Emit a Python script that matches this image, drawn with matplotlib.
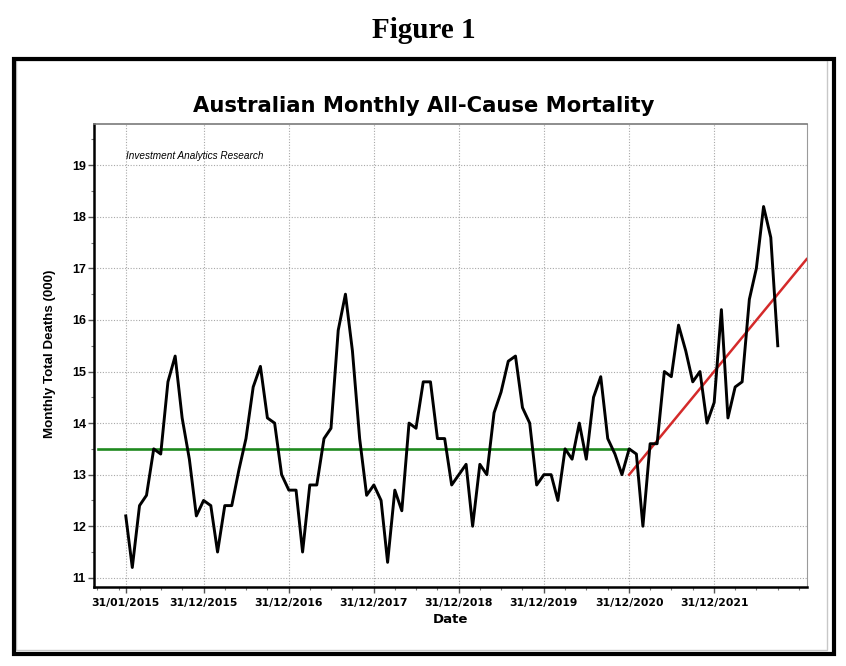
import numpy as np
import pandas as pd
import matplotlib
matplotlib.use('Agg')
import matplotlib.pyplot as plt
from matplotlib.patches import Rectangle

# monthly all-cause deaths (000), Jan 2015 .. Sep 2022
deaths_2015 = [12.2, 11.2, 12.4, 12.6, 13.5, 13.4, 14.8, 15.3, 14.1, 13.3, 12.2, 12.5]
deaths_2016 = [12.4, 11.5, 12.4, 12.4, 13.1, 13.7, 14.7, 15.1, 14.1, 14.0, 13.0, 12.7]
deaths_2017 = [12.7, 11.5, 12.8, 12.8, 13.7, 13.9, 15.8, 16.5, 15.4, 13.7, 12.6, 12.8]
deaths_2018 = [12.5, 11.3, 12.7, 12.3, 14.0, 13.9, 14.8, 14.8, 13.7, 13.7, 12.8, 13.0]
deaths_2019 = [13.2, 12.0, 13.2, 13.0, 14.2, 14.6, 15.2, 15.3, 14.3, 14.0, 12.8, 13.0]
deaths_2020 = [13.0, 12.5, 13.5, 13.3, 14.0, 13.3, 14.5, 14.9, 13.7, 13.4, 13.0, 13.5]
deaths_2021 = [13.4, 12.0, 13.6, 13.6, 15.0, 14.9, 15.9, 15.4, 14.8, 15.0, 14.0, 14.4]
deaths_2022 = [16.2, 14.1, 14.7, 14.8, 16.4, 17.0, 18.2, 17.6, 15.5]

deaths = (deaths_2015 + deaths_2016 + deaths_2017 + deaths_2018 +
          deaths_2019 + deaths_2020 + deaths_2021 + deaths_2022)
months = pd.date_range('2015-01-31', periods=len(deaths), freq='ME')

# pre-covid average level and post-2020 trend
avg_dates = ['2014-10-05', '2020-12-31']
avg_vals = [13.5, 13.5]
trend_dates = ['2020-12-31', '2023-02-01']
trend_vals = [13.0, 17.18]

tick_dates = ['2015-01-31', '2015-12-31', '2016-12-31', '2017-12-31',
              '2018-12-31', '2019-12-31', '2020-12-31', '2021-12-31']
tick_labels = ['31/01/2015', '31/12/2015', '31/12/2016', '31/12/2017',
               '31/12/2018', '31/12/2019', '31/12/2020', '31/12/2021']
y_ticks = [11, 12, 13, 14, 15, 16, 17, 18, 19]

fig = plt.figure(figsize=(8.46, 6.66), dpi=100, facecolor='white')
ax = fig.add_axes([0.1115, 0.1185, 0.842, 0.6953])

ax.plot(pd.to_datetime(avg_dates), avg_vals, color='#1f8a1f', lw=1.9, zorder=3)
ax.plot(pd.to_datetime(trend_dates), trend_vals, color='#d42a2a', lw=1.8, zorder=4)
ax.plot(months, deaths, color='black', lw=2.1, zorder=5)

ax.set_xlim(pd.Timestamp('2014-09-18'), pd.Timestamp('2023-02-01'))
ax.set_ylim(10.82, 19.8)

ax.set_xticks(pd.to_datetime(tick_dates))
ax.set_xticklabels(tick_labels)
minor = pd.date_range('2014-09-30', '2022-12-31', freq='QE')
ax.set_xticks(minor, minor=True)
ax.set_yticks(y_ticks)
ax.set_yticks(np.arange(11, 20, 0.5), minor=True)

for lab in ax.get_xticklabels():
    lab.set_fontfamily('DejaVu Sans')
    lab.set_fontweight('bold')
    lab.set_fontsize(7.8)
for lab in ax.get_yticklabels():
    lab.set_fontfamily('Liberation Sans')
    lab.set_fontweight('bold')
    lab.set_fontsize(9)

ax.tick_params(axis='both', which='major', direction='out', length=4, width=1, color='#555555')
ax.tick_params(axis='both', which='minor', direction='out', length=2.5, width=0.8, color='#777777')
ax.tick_params(axis='x', pad=4)
ax.tick_params(axis='y', pad=2)

ax.grid(True, which='major', linestyle=(0, (1, 1.5)), color='#a8a8a8', lw=0.8)

ax.spines['left'].set_linewidth(1.8)
ax.spines['bottom'].set_linewidth(1.8)
ax.spines['top'].set_color('#7a7a7a')
ax.spines['right'].set_color('#9a9a9a')
ax.spines['top'].set_linewidth(1.2)
ax.spines['right'].set_linewidth(0.8)

ax.text(pd.Timestamp('2015-01-31'), 19.12, 'Investment Analytics Research',
        fontsize=7.2, style='italic', family='Liberation Sans', va='baseline')

fig.text(0.501, 0.8323, 'Australian Monthly All-Cause Mortality',
         ha='center', va='baseline', fontsize=15.2, fontweight='bold', family='DejaVu Sans')
fig.text(0.501, 0.9434, 'Figure 1', ha='center', va='baseline',
         fontsize=21, fontweight='bold', family='Liberation Serif')
fig.text(0.059, 0.469, 'Monthly Total Deaths (000)', rotation=90, ha='center', va='center',
         fontsize=9.6, fontweight='bold', family='Liberation Sans')
fig.text(0.532, 0.0705, 'Date', ha='center', va='center',
         fontsize=9.5, fontweight='bold', family='DejaVu Sans')

# document frame
fig.patches.append(Rectangle((0.0189, 0.0240), 0.9586, 0.8852, transform=fig.transFigure,
                             fill=False, edgecolor='#c8c8c8', lw=1.0))
fig.patches.append(Rectangle((0.01655, 0.018), 0.9693, 0.8934, transform=fig.transFigure,
                             fill=False, edgecolor='black', lw=3.0))

fig.savefig('out.png', dpi=100, facecolor='white')
